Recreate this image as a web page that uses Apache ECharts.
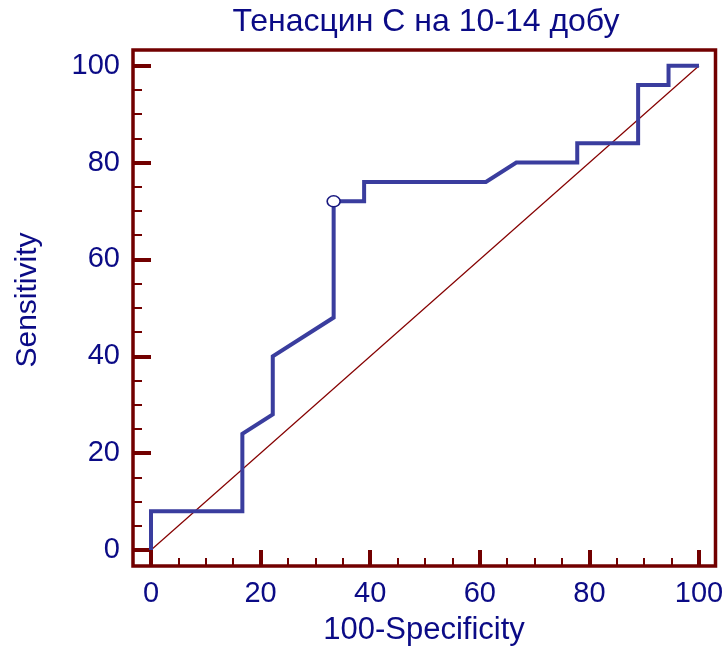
<!DOCTYPE html>
<html>
<head>
<meta charset="utf-8">
<script src="https://cdn.jsdelivr.net/npm/echarts@6/dist/echarts.min.js"></script>
<style>
html,body{margin:0;padding:0;background:#fff;}
#chart{width:728px;height:649px;}
</style>
</head>
<body>
<div id="chart"></div>
<script>
// ROC curve data (100-Specificity, Sensitivity)
const rocX = [0, 0, 16.67, 16.67, 22.22, 22.22, 33.33, 33.33, 38.89, 38.89, 61.11, 66.67, 77.78, 77.78, 88.89, 88.89, 94.44, 94.44, 100];
const rocY = [0, 8, 8, 24, 28, 40, 48, 72, 72, 76, 76, 80, 80, 84, 84, 96, 96, 100, 100];
const diagX = [0, 100];
const diagY = [0, 100];
const cutoffPoint = [33.33, 72];
const xTicks = [0, 20, 40, 60, 80, 100];
const yTicks = [0, 20, 40, 60, 80, 100];
const xMinorTicks = [5, 10, 15, 25, 30, 35, 45, 50, 55, 65, 70, 75, 85, 90, 95];
const yMinorTicks = [5, 10, 15, 25, 30, 35, 45, 50, 55, 65, 70, 75, 85, 90, 95];
const xRange = [-3.285, 103.01];
const yRange = [-3.304, 103.24];
const titleText = 'Тенасцин С на 10-14 добу';
const xName = '100-Specificity';
const yName = 'Sensitivity';

const FONT = '"Liberation Sans", Arial, sans-serif';
const TXT = '#0b0b86';
const FRAME = '#720000';

const chart = echarts.init(document.getElementById('chart'), null, {renderer: 'canvas'});

const rocData = rocX.map((x, i) => [x, rocY[i]]);
const diagData = diagX.map((x, i) => [x, diagY[i]]);

function majorAxis(range, ticks, len) {
  return {
    gridIndex: 0, type: 'value', min: range[0], max: range[1], offset: 0,
    axisLine: {show: false, onZero: false},
    axisTick: {show: true, inside: true, length: len, customValues: ticks, lineStyle: {color: FRAME, width: 4}},
    splitLine: {show: false},
    axisLabel: {show: true, margin: 13, color: TXT, fontSize: 29, fontFamily: FONT, customValues: ticks,
      formatter: v => String(Math.round(v))}
  };
}
function minorAxis(range, ticks, len) {
  return {
    gridIndex: 0, type: 'value', min: range[0], max: range[1], offset: 0,
    axisLine: {show: false, onZero: false},
    axisTick: {show: true, inside: true, length: len, customValues: ticks, lineStyle: {color: FRAME, width: 2}},
    splitLine: {show: false},
    axisLabel: {show: false}
  };
}

const xMajor = majorAxis(xRange, xTicks, 16); xMajor.position = 'bottom';
const xMinor = minorAxis(xRange, xMinorTicks, 8); xMinor.position = 'bottom';
const yMajor = majorAxis(yRange, yTicks, 18); yMajor.position = 'left';
const yMinor = minorAxis(yRange, yMinorTicks, 9); yMinor.position = 'left';

const option = {
  animation: false,
  backgroundColor: '#ffffff',
  graphic: [
    {type: 'text', x: 426, y: 22, z: 10,
      style: {text: titleText, font: '32px ' + FONT, fill: TXT, textAlign: 'center', textVerticalAlign: 'middle'}},
    {type: 'text', x: 424, y: 630, z: 10,
      style: {text: xName, font: '31px ' + FONT, fill: TXT, textAlign: 'center', textVerticalAlign: 'middle'}},
    {type: 'text', x: 28, y: 300, rotation: Math.PI / 2, z: 10,
      style: {text: yName, font: '30px ' + FONT, fill: TXT, textAlign: 'center', textVerticalAlign: 'middle'}}
  ],
  grid: [
    {left: 133, right: 12.5, top: 50, bottom: 83, show: true, borderColor: FRAME, borderWidth: 3.5, backgroundColor: 'transparent', containLabel: false}
  ],
  xAxis: [xMajor, xMinor],
  yAxis: [yMajor, yMinor],
  series: [
    {
      type: 'line', xAxisIndex: 0, yAxisIndex: 0,
      data: diagData, showSymbol: false, clip: false, silent: true,
      lineStyle: {color: '#850000', width: 1.2}, z: 2
    },
    {
      type: 'line', xAxisIndex: 0, yAxisIndex: 0,
      data: rocData, showSymbol: false, clip: false, silent: true,
      lineStyle: {color: '#3a3d9e', width: 4, join: 'miter', cap: 'butt'}, z: 3
    },
    {
      type: 'scatter', xAxisIndex: 0, yAxisIndex: 0,
      data: [cutoffPoint], symbol: 'circle', symbolSize: [13, 11], clip: false, silent: true,
      itemStyle: {color: '#ffffff', borderColor: '#1a1a80', borderWidth: 1.5, opacity: 1}, z: 4
    }
  ]
};
chart.setOption(option);
</script>
</body>
</html>
